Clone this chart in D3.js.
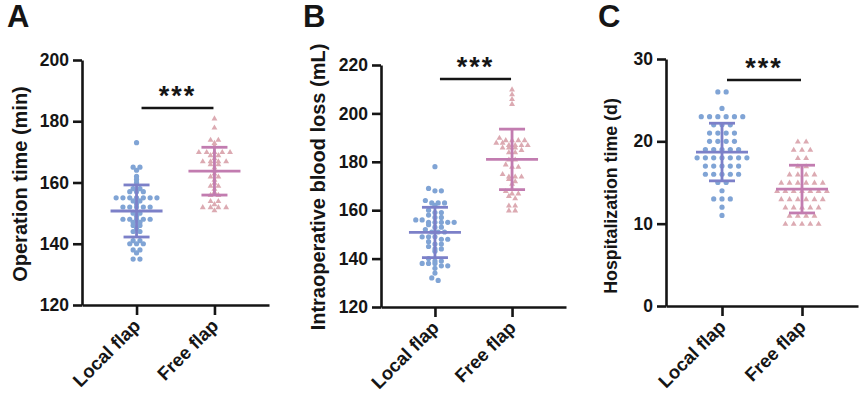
<!DOCTYPE html>
<html>
<head>
<meta charset="utf-8">
<script src="https://cdn.jsdelivr.net/npm/d3@7"></script>
<style>
  body { margin: 0; background: #fff; }
  text { font-family: 'Liberation Sans', Arial, sans-serif; font-weight: bold; fill: #151515; }
</style>
</head>
<body>
<svg id="chart" width="863" height="396"></svg>
<script>
// ---- data ----
const panelLetters = ['A', 'B', 'C'];
const categories = ['Local flap', 'Free flap'];
const yTitles = ['Operation time (min)', 'Intraoperative blood loss (mL)', 'Hospitalization time (d)'];
const yDomains = [[120, 200], [120, 220], [0, 30]];
const yTicks = [[120, 140, 160, 180, 200], [120, 140, 160, 180, 200, 220], [0, 10, 20, 30]];
const sigLabel = '***';

const opLocal = [173, 165, 165, 164, 162, 161, 160, 158, 158, 157, 157, 157,
  155, 155, 155, 155, 155, 155, 155, 154, 154, 153, 152, 152, 152, 152, 152,
  150, 150, 149, 148, 148, 148, 148, 148, 147, 147, 146, 146, 145, 144, 144,
  141, 141, 140, 140, 140, 138, 138, 137, 135, 135];
const opFree = [181, 178, 174, 174, 173, 172, 170, 170, 170, 170, 170, 169, 169,
  168, 167, 167, 167, 167, 166, 166, 165, 164, 163, 162, 162, 161,
  160, 159, 159, 158, 157, 156, 156, 154, 154, 153, 152, 152, 152, 152, 151];

const bloodLocal = [178, 169, 168, 168, 164, 163, 163, 163, 162, 160, 159, 159, 158,
  157, 157, 156, 156, 155, 155, 155, 155, 155, 154, 153, 153, 152, 151, 151, 151,
  149, 149, 149, 148, 148, 147, 146, 146, 145, 144, 144, 143,
  140, 139, 139, 138, 138, 138, 137, 137, 136, 134, 132, 131];
const bloodFree = [210, 208, 206, 204, 190, 189, 189, 189, 189, 188, 188,
  187, 187, 187, 187, 186, 186, 186, 185, 184, 184, 181, 181, 179, 178, 178,
  175, 174, 174, 174, 173, 172, 171, 168, 167, 167, 166, 165, 162, 162, 160, 160];

const hospLocal = [26, 26, 24, 23, 23, 23, 23, 23, 23, 22, 22, 22, 21, 21, 21, 21,
  20, 20, 20, 20, 19, 19, 19, 19, 19, 18, 18, 18, 18, 18, 18, 18,
  17, 17, 17, 17, 17, 16, 16, 16, 16, 16, 15, 15, 14, 13, 13, 13, 12, 11];
const hospFree = [20, 20, 19, 19, 19, 18, 18, 17, 17, 16, 16, 16, 16,
  15, 15, 15, 15, 15, 15, 14, 14, 14, 14, 14, 14, 14, 13, 13, 13, 13, 13, 13,
  12, 12, 12, 12, 12, 11, 11, 11, 11, 10, 10, 10, 10, 10];

// mean and SD as drawn
const opMean = [150.7, 163.7], opSD = [8.5, 7.8];
const bloodMean = [150.8, 181.0], bloodSD = [10.4, 12.5];
const hospMean = [18.7, 14.2], hospSD = [3.5, 2.9];

const panelData = [
  { groups: [opLocal, opFree], mean: opMean, sd: opSD },
  { groups: [bloodLocal, bloodFree], mean: bloodMean, sd: bloodSD },
  { groups: [hospLocal, hospFree], mean: hospMean, sd: hospSD }
];

// ---- layout ----
const layout = [
  { left: 82, right: 269, top: 60, bottom: 305, letterX: 7, titleX: 20, titleY: 184, titleSize: 20,
    sigY: 108, spacing: [6.8, 7.8], rowPx: 1 },
  { left: 381, right: 566, top: 65, bottom: 307, letterX: 303, titleX: 318, titleY: 187, titleSize: 20,
    sigY: 79, spacing: [6.4, 6.3], rowPx: 4.5 },
  { left: 666, right: 858, top: 59, bottom: 306, letterX: 598, titleX: 611, titleY: 196, titleSize: 17.8,
    sigY: 80, spacing: [8.3, 8.3], rowPx: 1 }
];

const pointColor = ['#80a4d5', '#dcaab2'];
const barColor = ['#7c80c8', '#c27cb0'];
const ink = '#151515';

const svg = d3.select('#chart');

// GraphPad style scatter: points closer than rowPx share a row, spread symmetrically
function swarm(values, y, spacing, rowPx) {
  const sorted = values.slice().sort((a, b) => b - a);
  const rows = [];
  sorted.forEach(v => {
    const last = rows[rows.length - 1];
    if (last && Math.abs(y(v) - y(last[0])) < rowPx) last.push(v);
    else rows.push([v]);
  });
  const out = [];
  rows.forEach(r => {
    r.forEach((v, i) => out.push({ v: v, dx: (i - (r.length - 1) / 2) * spacing }));
  });
  return out;
}

panelData.forEach((d, p) => {
  const cfg = layout[p];
  const g = svg.append('g');

  const y = d3.scaleLinear().domain(yDomains[p]).range([cfg.bottom, cfg.top]);
  const x = d3.scalePoint().domain(categories).range([cfg.left, cfg.right]).padding(0.7);

  // points
  d.groups.forEach((vals, i) => {
    const cx = x(categories[i]);
    const pts = swarm(vals, y, cfg.spacing[i], cfg.rowPx);
    if (i === 0) {
      g.selectAll(null).data(pts).enter().append('circle')
        .attr('cx', q => cx + q.dx)
        .attr('cy', q => y(q.v))
        .attr('r', 2.6)
        .attr('fill', pointColor[0]);
    } else {
      g.selectAll(null).data(pts).enter().append('path')
        .attr('d', d3.symbol(d3.symbolTriangle, 15))
        .attr('transform', q => `translate(${cx + q.dx},${y(q.v) + 0.5})`)
        .attr('fill', pointColor[1]);
    }
  });

  // mean +- SD
  categories.forEach((c, i) => {
    const cx = x(c), m = d.mean[i], s = d.sd[i];
    const eb = g.append('g').attr('stroke', barColor[i]).attr('stroke-width', 2.8);
    eb.append('line').attr('x1', cx - 26).attr('x2', cx + 26).attr('y1', y(m)).attr('y2', y(m));
    eb.append('line').attr('x1', cx).attr('x2', cx).attr('y1', y(m + s)).attr('y2', y(m - s));
    [m + s, m - s].forEach(v => {
      eb.append('line').attr('x1', cx - 13).attr('x2', cx + 13).attr('y1', y(v)).attr('y2', y(v));
    });
  });

  // axes
  const yAxis = g.append('g')
    .attr('transform', `translate(${cfg.left},0)`)
    .call(d3.axisLeft(y).tickValues(yTicks[p]).tickSize(9).tickSizeOuter(0).tickPadding(4));
  const xAxis = g.append('g')
    .attr('transform', `translate(0,${cfg.bottom})`)
    .call(d3.axisBottom(x).tickSize(10).tickSizeOuter(0));
  xAxis.selectAll('.tick text').remove();
  [yAxis, xAxis].forEach(a => {
    a.selectAll('.domain, .tick line').attr('stroke', ink).attr('stroke-width', 2.6);
  });
  yAxis.selectAll('.tick text').attr('font-size', 17.5).attr('fill', ink)
    .style('font-family', "'Liberation Sans', Arial, sans-serif").style('font-weight', 'bold');

  categories.forEach(c => {
    g.append('text')
      .attr('transform', `translate(${x(c) + 5},${cfg.bottom + 22}) rotate(-45)`)
      .attr('text-anchor', 'end')
      .attr('font-size', 18.5)
      .text(c);
  });

  // axis title
  g.append('text')
    .attr('transform', `translate(${cfg.titleX},${cfg.titleY}) rotate(-90)`)
    .attr('text-anchor', 'middle')
    .attr('dy', '0.36em')
    .attr('font-size', cfg.titleSize)
    .text(yTitles[p]);

  // significance
  const x0 = x(categories[0]) + 5, x1 = x(categories[1]) - 1;
  g.append('line').attr('x1', x0).attr('x2', x1).attr('y1', cfg.sigY).attr('y2', cfg.sigY)
    .attr('stroke', ink).attr('stroke-width', 2.6);
  g.append('text')
    .attr('x', (x0 + x1) / 2).attr('y', cfg.sigY - 3)
    .attr('text-anchor', 'middle')
    .attr('font-size', 27)
    .attr('letter-spacing', 2)
    .text(sigLabel);

  // panel letter
  g.append('text')
    .attr('x', cfg.letterX).attr('y', 27)
    .attr('font-size', 31)
    .text(panelLetters[p]);
});
</script>
</body>
</html>
